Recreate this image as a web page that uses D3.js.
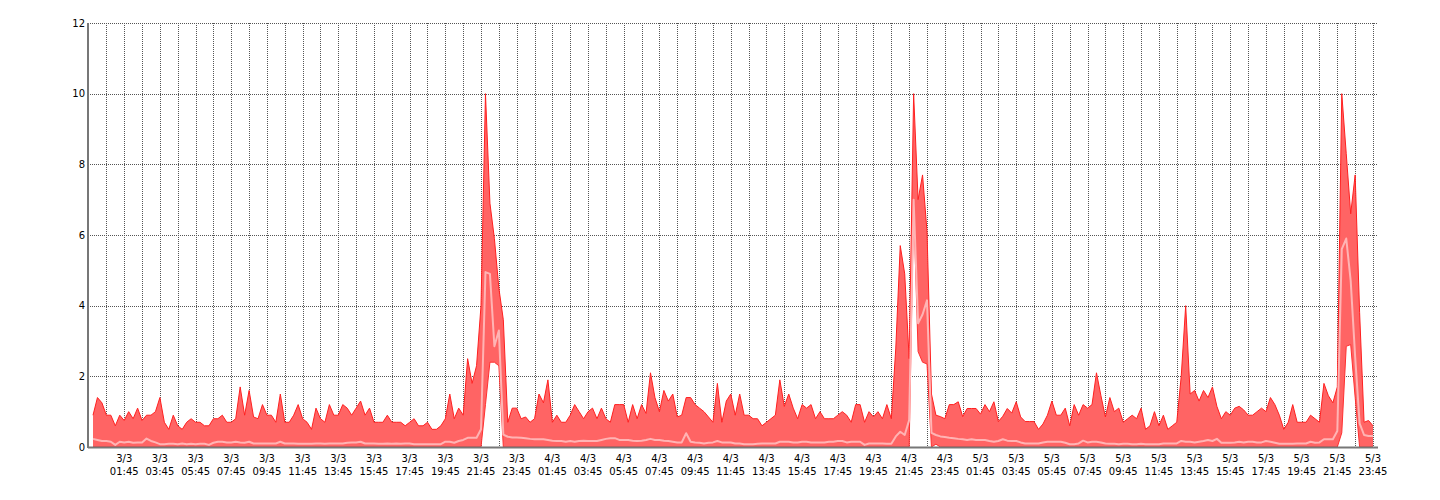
<!DOCTYPE html>
<html><head><meta charset="utf-8">
<script src="https://cdn.jsdelivr.net/npm/d3@7"></script>
<style>body{margin:0;background:#fff}svg{display:block}</style>
</head><body><svg id="chart" width="1440" height="500"></svg>
<script>
// 15-minute samples, 3/3 00:00 .. 5/3 23:45
const maxValues = [
0.9,1.4,1.25,0.9,0.9,0.6,0.9,0.75,1.0,0.8,
1.1,0.75,0.9,0.9,1.0,1.4,0.7,0.5,0.9,0.6,
0.5,0.7,0.8,0.7,0.7,0.6,0.6,0.8,0.8,0.9,
0.7,0.7,0.8,1.7,0.9,1.6,0.85,0.8,1.2,0.9,
0.9,0.7,1.5,0.7,0.7,0.9,1.2,0.8,0.7,0.5,
1.1,0.8,0.7,1.2,0.9,0.9,1.2,1.1,0.9,1.1,
1.3,0.9,1.1,0.7,0.7,0.7,0.9,0.7,0.7,0.7,
0.6,0.7,0.8,0.6,0.6,0.7,0.5,0.5,0.6,0.8,
1.5,0.8,1.1,0.9,2.5,1.8,2.3,4.0,10.0,6.9,
5.9,4.5,3.6,0.7,1.1,1.1,0.8,0.85,0.7,0.8,
1.5,1.25,1.9,0.7,0.9,0.7,0.7,0.9,1.2,1.0,
0.8,1.0,1.1,0.8,1.1,0.8,0.7,1.2,1.2,1.2,
0.7,1.2,0.8,1.2,0.95,2.1,1.4,1.0,1.6,1.3,
1.5,0.85,0.9,1.4,1.4,1.2,1.1,1.0,0.85,0.7,
1.8,0.7,1.3,1.5,0.9,1.5,0.9,0.9,0.8,0.8,
0.6,0.7,0.8,0.9,1.9,1.15,1.5,1.1,0.8,1.2,
1.1,1.2,0.8,1.0,0.8,0.8,0.8,0.9,1.0,0.9,
0.7,1.2,1.2,0.7,1.0,0.85,1.0,0.8,1.2,0.8,
2.8,5.7,4.9,2.5,10.0,7.0,7.7,6.1,1.5,0.9,
0.86,0.8,1.2,1.2,1.28,0.86,1.09,1.09,1.09,0.93,
1.2,1.0,1.28,0.72,0.87,1.09,0.96,1.28,0.85,0.72,
0.72,0.72,0.5,0.65,0.9,1.3,0.9,0.9,1.1,0.6,
1.2,0.9,1.2,1.1,1.2,2.1,1.45,0.85,1.4,1.0,
1.1,0.7,0.8,0.9,0.8,1.1,0.5,0.6,1.0,0.6,
0.9,0.5,0.6,0.7,2.0,4.0,1.5,1.6,1.3,1.6,
1.4,1.7,1.15,0.8,1.0,0.9,1.1,1.15,1.05,0.9,
0.9,1.0,1.1,1.0,1.4,1.2,0.9,0.5,0.7,1.2,
0.7,0.7,0.7,0.9,0.8,0.7,1.8,1.45,1.25,1.7,
10.0,8.3,6.6,7.7,3.8,0.7,0.75,0.6
];
const minValues = [
0,0,0,0,0,0,0,0,0,0, 0,0,0,0,0,0,0,0,0,0,
0,0,0,0,0,0,0,0,0,0, 0,0,0,0,0,0,0,0,0,0,
0,0,0,0,0,0,0,0,0,0, 0,0,0,0,0,0,0,0,0,0,
0,0,0,0,0,0,0,0,0,0, 0,0,0,0,0,0,0,0,0,0,
0,0,0,0,0,0,0,0,1.2,2.4, 2.4,2.3,0,0,0,0,0,0,0,0,
0,0,0,0,0,0,0,0,0,0, 0,0,0,0,0,0,0,0,0,0,
0,0,0,0,0,0,0,0,0,0, 0,0,0,0,0,0,0,0,0,0,
0,0,0,0,0,0,0,0,0,0, 0,0,0,0,0,0,0,0,0,0,
0,0,0,0,0,0,0,0,0,0, 0,0,0,0,0,0,0,0,0,0,
0,0,0,0,6.9,2.7,2.4,2.35,0,0.08, 0,0,0,0,0,0,0,0,0,0,
0,0,0,0,0,0,0,0,0,0, 0,0,0,0,0,0,0,0,0,0,
0,0,0,0,0,0,0,0,0,0, 0,0,0,0,0,0,0,0,0,0,
0,0,0,0,0,0,0,0,0,0, 0,0,0,0,0,0,0,0,0,0,
0,0,0,0,0,0,0,0,0,0, 0,0,0,0,0,0,0,0,0,0,
0.4,2.85,2.9,1.4,0,0,0,0
];
const meanValues = [
0.23,0.2,0.17,0.17,0.15,0.06,0.15,0.13,0.15,0.12,
0.13,0.13,0.24,0.17,0.13,0.08,0.08,0.09,0.09,0.08,
0.1,0.08,0.09,0.08,0.09,0.09,0.06,0.12,0.15,0.15,
0.13,0.13,0.15,0.13,0.12,0.15,0.1,0.1,0.1,0.1,
0.1,0.1,0.15,0.1,0.1,0.1,0.09,0.09,0.09,0.09,
0.1,0.1,0.09,0.1,0.1,0.1,0.1,0.12,0.13,0.13,
0.15,0.1,0.1,0.1,0.09,0.09,0.1,0.09,0.1,0.09,
0.1,0.1,0.08,0.08,0.08,0.08,0.08,0.08,0.08,0.15,
0.15,0.12,0.17,0.2,0.26,0.26,0.26,0.5,4.95,4.9,
2.85,3.3,0.35,0.29,0.27,0.27,0.26,0.25,0.23,0.22,
0.22,0.22,0.2,0.18,0.17,0.17,0.15,0.17,0.15,0.17,
0.18,0.17,0.17,0.17,0.2,0.23,0.25,0.25,0.2,0.2,
0.2,0.18,0.17,0.18,0.2,0.23,0.2,0.2,0.18,0.17,
0.15,0.13,0.13,0.39,0.15,0.13,0.12,0.1,0.12,0.13,
0.17,0.13,0.13,0.13,0.1,0.1,0.08,0.08,0.08,0.09,
0.1,0.1,0.1,0.1,0.15,0.15,0.15,0.13,0.13,0.15,
0.15,0.13,0.13,0.13,0.13,0.15,0.15,0.17,0.17,0.13,
0.15,0.15,0.15,0.06,0.1,0.1,0.1,0.1,0.09,0.09,
0.3,0.43,0.34,0.76,7.0,3.5,3.75,4.15,0.4,0.34,
0.3,0.28,0.26,0.25,0.23,0.22,0.2,0.22,0.2,0.2,
0.2,0.17,0.15,0.17,0.22,0.18,0.17,0.17,0.13,0.1,
0.1,0.1,0.1,0.13,0.15,0.15,0.15,0.15,0.12,0.08,
0.08,0.1,0.18,0.13,0.15,0.15,0.13,0.1,0.09,0.09,
0.08,0.09,0.09,0.08,0.08,0.09,0.08,0.08,0.08,0.08,
0.1,0.1,0.1,0.1,0.17,0.15,0.15,0.13,0.15,0.17,
0.2,0.17,0.23,0.12,0.12,0.12,0.13,0.15,0.13,0.15,
0.15,0.13,0.13,0.17,0.15,0.12,0.09,0.09,0.09,0.09,
0.1,0.1,0.1,0.15,0.12,0.13,0.22,0.22,0.22,0.45,
5.6,5.9,4.7,2.55,0.67,0.34,0.31,0.31
];
const yTickValues = [0, 2, 4, 6, 8, 10, 12];
const startTime = new Date(2023, 2, 3, 0, 0);
const sampleMinutes = 15;
const tickOffsetMinutes = 45;   // grid every hour at :45, labels on odd hours

const svg = d3.select("#chart");
const plot = {left: 88, right: 1378, top: 23, bottom: 447, pad: 5};

const times = maxValues.map((_, i) => d3.timeMinute.offset(startTime, i * sampleMinutes));
const data = times.map((t, i) => ({t, max: maxValues[i], min: minValues[i], mean: meanValues[i]}));

const x = d3.scaleTime().domain([times[0], times[times.length - 1]])
  .range([plot.left + plot.pad, plot.right - plot.pad]);
const y = d3.scaleLinear().domain([0, 12]).range([plot.bottom, plot.top]);

const tickTimes = d3.range(0, 72).map(h => d3.timeMinute.offset(startTime, tickOffsetMinutes + 60 * h));

// grid
const grid = svg.append("g").attr("stroke", "#555").attr("stroke-width", 1)
  .attr("stroke-dasharray", "1,1").attr("shape-rendering", "crispEdges");
grid.selectAll("line.v").data(tickTimes).join("line").attr("class", "v")
  .attr("x1", d => Math.round(x(d)) + 0.5).attr("x2", d => Math.round(x(d)) + 0.5)
  .attr("y1", plot.top).attr("y2", plot.bottom);
grid.selectAll("line.h").data(yTickValues.filter(v => v > 0)).join("line").attr("class", "h")
  .attr("x1", plot.left).attr("x2", plot.right)
  .attr("y1", d => Math.round(y(d)) + 0.5).attr("y2", d => Math.round(y(d)) + 0.5);

// band
const area = d3.area().x(d => x(d.t)).y0(d => y(d.min)).y1(d => y(d.max));
svg.append("path").datum(data).attr("d", area).attr("fill", "#ff6464");
svg.append("path").datum(data).attr("fill", "none").attr("stroke", "#ff2020").attr("stroke-width", 1)
  .attr("d", d3.line().x(d => x(d.t)).y(d => y(d.max)));
svg.append("path").datum(data).attr("fill", "none").attr("stroke", "#ff3030").attr("stroke-width", 1)
  .attr("d", d3.line().x(d => x(d.t)).y(d => y(d.min)));
svg.append("path").datum(data).attr("fill", "none").attr("stroke", "#ffb4b4").attr("stroke-width", 2)
  .attr("stroke-linejoin", "round")
  .attr("d", d3.line().x(d => x(d.t)).y(d => y(d.mean)));

// axes lines
svg.append("line").attr("x1", plot.left).attr("x2", plot.left).attr("y1", plot.top).attr("y2", plot.bottom + 1)
  .attr("stroke", "#777").attr("stroke-width", 2);
svg.append("line").attr("x1", plot.left).attr("x2", plot.right).attr("y1", plot.bottom + 0.5).attr("y2", plot.bottom + 0.5)
  .attr("stroke", "#777").attr("stroke-width", 2);

const font = "Tahoma, 'DejaVu Sans', sans-serif";
// y labels
svg.append("g").selectAll("text").data(yTickValues).join("text")
  .attr("x", plot.left - 3).attr("y", d => y(d)).attr("dy", "0.35em")
  .attr("text-anchor", "end").attr("font-family", font).attr("font-size", 10).attr("fill", "#000")
  .text(d => d);

// x labels
const fmtDay = d3.timeFormat("%-d/%-m"), fmtTime = d3.timeFormat("%H:%M");
const xl = svg.append("g").selectAll("g").data(tickTimes.filter(t => t.getHours() % 2 === 1)).join("g")
  .attr("transform", d => `translate(${x(d)},0)`);
xl.append("text").attr("y", 461.5).attr("text-anchor", "middle").attr("font-family", font)
  .attr("font-size", 10).attr("fill", "#000").text(fmtDay);
xl.append("text").attr("y", 474.5).attr("text-anchor", "middle").attr("font-family", font)
  .attr("font-size", 10).attr("fill", "#000").text(fmtTime);
</script></body></html>
